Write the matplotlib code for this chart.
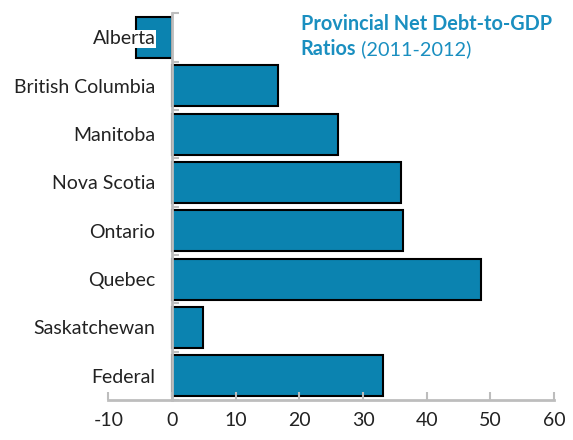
import matplotlib
matplotlib.use("Agg")
import matplotlib.pyplot as plt
import numpy as np

plt.rcParams['font.family'] = ['Lato', 'DejaVu Sans']

# Data (net debt-to-GDP, %, 2011-2012)
provinces = ['Alberta', 'British Columbia', 'Manitoba', 'Nova Scotia',
             'Ontario', 'Quebec', 'Saskatchewan', 'Federal']
ratios = [-5.6, 16.6, 26.1, 35.9, 36.2, 48.6, 4.8, 33.1]
x_ticks = [-10, 0, 10, 20, 30, 40, 50, 60]

bar_color = '#0b83b0'
title_color = '#1a8fc0'
axis_grey = '#bdbdbd'

fig = plt.figure(figsize=(5.73, 4.4), dpi=100)
ax = fig.add_axes([0.189, 0.091, 0.778, 0.879])

ypos = np.arange(len(provinces))[::-1]
ax.barh(ypos, ratios, height=0.85, color=bar_color, edgecolor='black',
        linewidth=1.5, zorder=1)
ax.set_axisbelow(False)

ax.set_xlim(-10, 60)
ax.set_ylim(-0.5, len(provinces) - 0.5)
ax.set_xticks(x_ticks)
ax.set_xticklabels([str(t) for t in x_ticks], fontsize=14, color='#222222')

# y axis sits at zero
ax.spines['left'].set_position(('data', 0))
ax.spines['left'].set_color(axis_grey)
ax.spines['left'].set_linewidth(2)
ax.spines['bottom'].set_color(axis_grey)
ax.spines['bottom'].set_linewidth(2)
ax.spines['top'].set_visible(False)
ax.spines['right'].set_visible(False)

ax.set_yticks(ypos)
ax.set_yticklabels(provinces, fontsize=14, color='#222222')
ax.set_yticks(np.arange(len(provinces) + 1) - 0.5, minor=True)
ax.tick_params(axis='y', which='major', length=0, pad=12)
ax.tick_params(axis='y', which='minor', direction='in', length=5,
               width=1.5, color=axis_grey)
ax.tick_params(axis='x', direction='in', length=6, width=1.5,
               color=axis_grey, pad=9)

# Alberta label sits over its bar on a white box
for lab in ax.get_yticklabels():
    if lab.get_text() == 'Alberta':
        lab.set_bbox(dict(facecolor='white', edgecolor='none', pad=0.5))

# Title block
t1 = fig.text(0.525, 0.932, 'Provincial Net Debt-to-GDP', fontsize=14.3,
              fontweight='bold', color=title_color, va='baseline')
t2 = fig.text(0.525, 0.876, 'Ratios', fontsize=14.3, fontweight='bold',
              color=title_color, va='baseline')
ax.annotate(' (2011-2012)', xy=(1, 0), xycoords=t2, va='bottom',
            fontsize=14.3, color=title_color)

fig.savefig('out.png', dpi=100)
